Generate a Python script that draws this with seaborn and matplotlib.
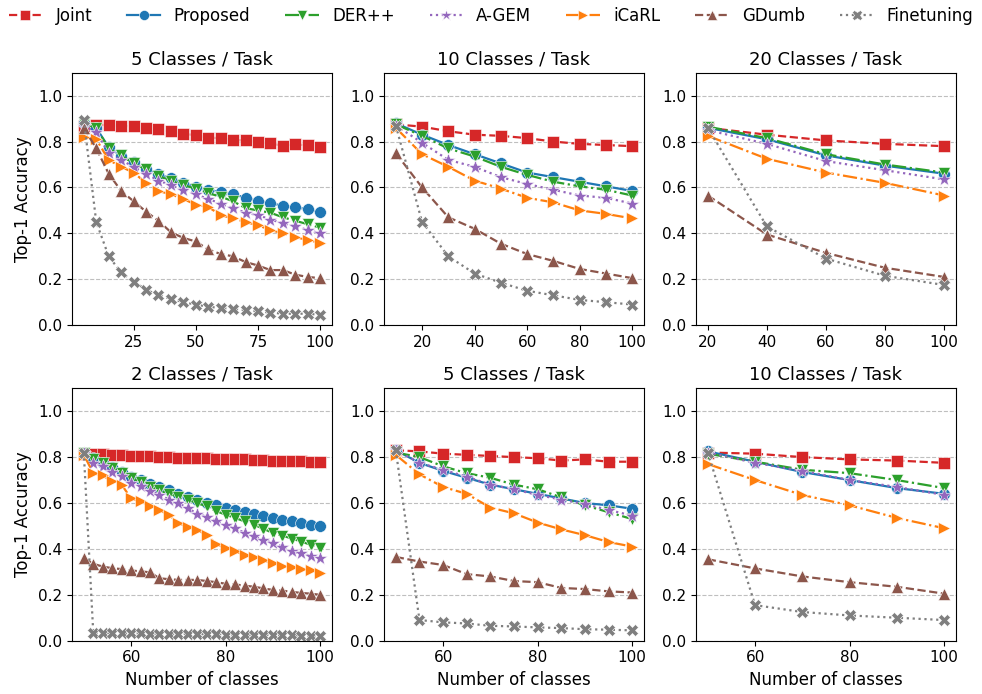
import numpy as np
import pandas as pd
import matplotlib
matplotlib.use("Agg")
import matplotlib.pyplot as plt
import seaborn as sns

methods = ["Joint", "Proposed", "DER++", "A-GEM", "iCaRL", "GDumb", "Finetuning"]
titles = ["5 Classes / Task", "10 Classes / Task", "20 Classes / Task",
          "2 Classes / Task", "5 Classes / Task", "10 Classes / Task"]

# ---------- top row (0 initial classes) ----------
x_a = list(range(5, 101, 5))
a_joint = [0.87, 0.874, 0.871, 0.868, 0.867, 0.861, 0.853, 0.845, 0.835, 0.827,
           0.817, 0.815, 0.807, 0.805, 0.798, 0.792, 0.782, 0.788, 0.783, 0.777]
a_prop = [0.88, 0.86, 0.775, 0.738, 0.71, 0.68, 0.66, 0.64, 0.62, 0.604,
          0.59, 0.58, 0.57, 0.556, 0.542, 0.532, 0.52, 0.513, 0.506, 0.491]
a_der = [0.88, 0.86, 0.77, 0.74, 0.705, 0.68, 0.65, 0.63, 0.61, 0.595,
         0.575, 0.56, 0.54, 0.51, 0.50, 0.49, 0.47, 0.455, 0.44, 0.425]
a_agem = [0.87, 0.84, 0.75, 0.72, 0.69, 0.66, 0.63, 0.61, 0.59, 0.57,
          0.55, 0.53, 0.51, 0.49, 0.48, 0.46, 0.445, 0.43, 0.415, 0.40]
a_icarl = [0.82, 0.81, 0.72, 0.69, 0.665, 0.62, 0.585, 0.57, 0.55, 0.525,
           0.515, 0.48, 0.465, 0.45, 0.435, 0.415, 0.40, 0.385, 0.37, 0.36]
a_gdumb = [0.86, 0.77, 0.66, 0.585, 0.54, 0.495, 0.455, 0.405, 0.38, 0.365,
           0.33, 0.31, 0.30, 0.275, 0.26, 0.24, 0.24, 0.22, 0.21, 0.205]
a_fine = [0.895, 0.45, 0.30, 0.23, 0.19, 0.155, 0.13, 0.115, 0.10, 0.09,
          0.08, 0.075, 0.07, 0.065, 0.06, 0.055, 0.05, 0.05, 0.05, 0.045]

x_b = list(range(10, 101, 10))
b_joint = [0.875, 0.865, 0.845, 0.83, 0.825, 0.815, 0.80, 0.79, 0.785, 0.78]
b_prop = [0.88, 0.83, 0.785, 0.745, 0.705, 0.665, 0.645, 0.625, 0.605, 0.585]
b_der = [0.875, 0.825, 0.77, 0.735, 0.69, 0.655, 0.625, 0.605, 0.59, 0.565]
b_agem = [0.87, 0.795, 0.72, 0.69, 0.645, 0.615, 0.59, 0.565, 0.555, 0.53]
b_icarl = [0.86, 0.745, 0.69, 0.63, 0.595, 0.555, 0.535, 0.50, 0.485, 0.465]
b_gdumb = [0.75, 0.60, 0.47, 0.42, 0.355, 0.31, 0.28, 0.245, 0.225, 0.205]
b_fine = [0.87, 0.45, 0.30, 0.225, 0.185, 0.15, 0.13, 0.11, 0.10, 0.09]

x_c = [20, 40, 60, 80, 100]
c_joint = [0.86, 0.83, 0.805, 0.79, 0.78]
c_prop = [0.86, 0.81, 0.74, 0.695, 0.66]
c_der = [0.865, 0.815, 0.745, 0.70, 0.665]
c_agem = [0.85, 0.79, 0.715, 0.675, 0.635]
c_icarl = [0.825, 0.725, 0.665, 0.62, 0.565]
c_gdumb = [0.565, 0.395, 0.315, 0.25, 0.21]
c_fine = [0.86, 0.43, 0.29, 0.215, 0.175]

# ---------- bottom row (50 initial classes) ----------
x_d = list(range(50, 101, 2))
d_joint = [0.815, 0.815, 0.812, 0.81, 0.808, 0.806, 0.805, 0.803, 0.80, 0.80,
           0.798, 0.797, 0.795, 0.795, 0.793, 0.792, 0.79, 0.79, 0.788, 0.787,
           0.785, 0.785, 0.783, 0.782, 0.78, 0.777]
d_prop = [0.82, 0.795, 0.775, 0.755, 0.735, 0.715, 0.70, 0.685, 0.67, 0.655,
          0.64, 0.626, 0.612, 0.60, 0.59, 0.578, 0.568, 0.56, 0.55, 0.542,
          0.534, 0.527, 0.52, 0.513, 0.506, 0.50]
d_der = [0.82, 0.79, 0.775, 0.753, 0.73, 0.71, 0.69, 0.67, 0.655, 0.64,
         0.628, 0.614, 0.60, 0.585, 0.565, 0.549, 0.535, 0.52, 0.505, 0.488,
         0.469, 0.458, 0.445, 0.432, 0.418, 0.403]
d_agem = [0.82, 0.775, 0.76, 0.735, 0.717, 0.688, 0.673, 0.652, 0.637, 0.615,
          0.60, 0.578, 0.553, 0.54, 0.522, 0.505, 0.49, 0.47, 0.455, 0.44,
          0.425, 0.41, 0.389, 0.38, 0.37, 0.36]
d_icarl = [0.81, 0.73, 0.72, 0.695, 0.68, 0.62, 0.607, 0.588, 0.568, 0.549,
           0.513, 0.495, 0.483, 0.46, 0.422, 0.403, 0.389, 0.374, 0.364, 0.35,
           0.338, 0.326, 0.319, 0.312, 0.306, 0.297]
d_gdumb = [0.36, 0.335, 0.323, 0.316, 0.312, 0.306, 0.302, 0.298, 0.272, 0.268,
           0.265, 0.265, 0.265, 0.26, 0.255, 0.248, 0.245, 0.24, 0.235, 0.228,
           0.221, 0.218, 0.213, 0.208, 0.205, 0.20]
d_fine = [0.82, 0.035, 0.034, 0.033, 0.033, 0.032, 0.032, 0.031, 0.031, 0.03,
          0.03, 0.029, 0.029, 0.028, 0.028, 0.027, 0.027, 0.026, 0.026, 0.025,
          0.025, 0.024, 0.023, 0.022, 0.021, 0.02]

x_e = list(range(50, 101, 5))
e_joint = [0.83, 0.825, 0.815, 0.81, 0.805, 0.80, 0.795, 0.785, 0.79, 0.78, 0.78]
e_prop = [0.83, 0.775, 0.74, 0.71, 0.68, 0.66, 0.64, 0.62, 0.60, 0.59, 0.575]
e_der = [0.82, 0.80, 0.76, 0.73, 0.71, 0.68, 0.66, 0.625, 0.59, 0.56, 0.53]
e_agem = [0.83, 0.775, 0.745, 0.715, 0.68, 0.66, 0.635, 0.615, 0.595, 0.57, 0.545]
e_icarl = [0.81, 0.725, 0.67, 0.64, 0.58, 0.555, 0.515, 0.485, 0.46, 0.43, 0.41]
e_gdumb = [0.365, 0.345, 0.33, 0.29, 0.28, 0.26, 0.255, 0.23, 0.225, 0.215, 0.21]
e_fine = [0.83, 0.09, 0.08, 0.075, 0.065, 0.062, 0.058, 0.055, 0.05, 0.048, 0.045]

x_f = [50, 60, 70, 80, 90, 100]
f_joint = [0.82, 0.815, 0.80, 0.79, 0.785, 0.775]
f_prop = [0.825, 0.78, 0.735, 0.70, 0.665, 0.64]
f_der = [0.815, 0.78, 0.745, 0.73, 0.70, 0.665]
f_agem = [0.82, 0.775, 0.74, 0.70, 0.67, 0.635]
f_icarl = [0.77, 0.70, 0.635, 0.59, 0.535, 0.49]
f_gdumb = [0.355, 0.315, 0.28, 0.255, 0.235, 0.205]
f_fine = [0.82, 0.155, 0.125, 0.11, 0.10, 0.09]

panels = [
    (x_a, [a_joint, a_prop, a_der, a_agem, a_icarl, a_gdumb, a_fine]),
    (x_b, [b_joint, b_prop, b_der, b_agem, b_icarl, b_gdumb, b_fine]),
    (x_c, [c_joint, c_prop, c_der, c_agem, c_icarl, c_gdumb, c_fine]),
    (x_d, [d_joint, d_prop, d_der, d_agem, d_icarl, d_gdumb, d_fine]),
    (x_e, [e_joint, e_prop, e_der, e_agem, e_icarl, e_gdumb, e_fine]),
    (x_f, [f_joint, f_prop, f_der, f_agem, f_icarl, f_gdumb, f_fine]),
]

colors = ["#d62728", "#1f77b4", "#2ca02c", "#9467bd", "#ff7f0e", "#8c564b", "#7f7f7f"]
markers = ["s", "o", "v", "*", ">", "^", "X"]
marker_sizes = [8.5, 8.5, 8.5, 10.5, 8.5, 8.5, 8.5]
linestyles = ["--", "-", "-.", ":", "-.", "--", ":"]

plt.rcParams["font.family"] = ["DejaVu Sans"]
fig, axes = plt.subplots(2, 3, figsize=(9.82, 6.94), dpi=100)
fig.subplots_adjust(left=0.0733, right=0.9735, top=0.8952, bottom=0.0768,
                    wspace=0.2, hspace=0.25)

for idx, (ax, (xs, series)) in enumerate(zip(axes.flat, panels)):
    for m, ys, c, mk, ms, ls in zip(methods, series, colors, markers,
                                    marker_sizes, linestyles):
        df = pd.DataFrame({"x": xs, "y": ys})
        sns.lineplot(data=df, x="x", y="y", ax=ax, color=c, marker=mk,
                     linestyle=ls, markersize=ms, linewidth=1.6, label=m,
                     legend=False, markeredgewidth=0.4)
    ax.set_ylim(0, 1.1)
    ax.set_yticks([0.0, 0.2, 0.4, 0.6, 0.8, 1.0])
    ax.grid(axis="y", linestyle="--", color="#b0b0b0", alpha=0.8, linewidth=0.8)
    ax.set_axisbelow(True)
    ax.set_title(titles[idx], fontsize=13)
    ax.tick_params(labelsize=11)
    if idx % 3 == 0:
        ax.set_ylabel("Top-1 Accuracy", fontsize=12)
    else:
        ax.set_ylabel("")
    if idx >= 3:
        ax.set_xlabel("Number of classes", fontsize=12)
    else:
        ax.set_xlabel("")

handles, labels = axes.flat[0].get_legend_handles_labels()
fig.legend(handles, labels, loc="upper center", ncol=7, frameon=False,
           fontsize=12, bbox_to_anchor=(0.5, 1.012), columnspacing=2.1,
           handlelength=2.0, markerscale=0.85)

fig.savefig("out.png", dpi=100)
